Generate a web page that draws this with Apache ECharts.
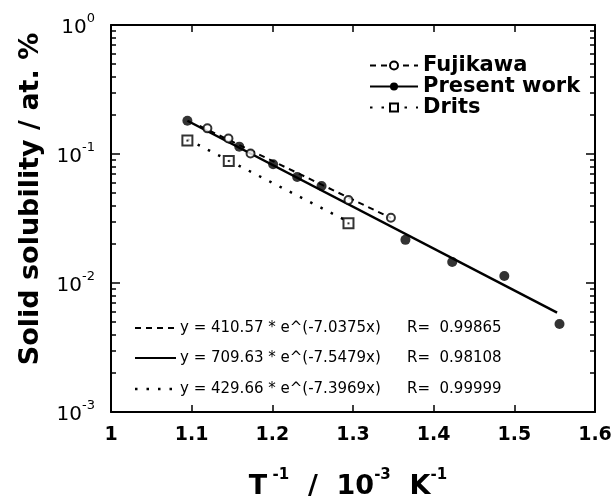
<!DOCTYPE html>
<html>
<head>
<meta charset="utf-8">
<script src="https://cdn.jsdelivr.net/npm/echarts@6/dist/echarts.min.js"></script>
<style>html,body{margin:0;padding:0;background:#fff}#c{width:616px;height:496px}</style>
</head>
<body>
<div id="c"></div>
<script>
// ---- data ----
var fujikawaX = [1.1195, 1.1456, 1.173, 1.2944, 1.347];
var fujikawaY = [0.158, 0.132, 0.101, 0.044, 0.0321];
var presentX = [1.0947, 1.159, 1.201, 1.2308, 1.261, 1.365, 1.423, 1.4876, 1.556];
var presentY = [0.181, 0.114, 0.0832, 0.0664, 0.0565, 0.0216, 0.01455, 0.01133, 0.00481];
var dritsX = [1.0947, 1.146, 1.2944];
var dritsY = [0.127, 0.0883, 0.029];
// fit line end points
var fujikawaFitX = [1.110, 1.347];
var fujikawaFitY = [0.165, 0.0319];
var presentFitX = [1.0947, 1.553];
var presentFitY = [0.181, 0.0059];
var dritsFitX = [1.0947, 1.2944];
var dritsFitY = [0.130, 0.0298];
// ticks
var xTickLabels = ['1', '1.1', '1.2', '1.3', '1.4', '1.5', '1.6'];
var yMajor = [0.001, 0.01, 0.1, 1];
var yMajorExp = ['-3', '-2', '-1', '0'];
var yMinor = [0.002,0.003,0.004,0.005,0.006,0.007,0.008,0.009,
              0.02,0.03,0.04,0.05,0.06,0.07,0.08,0.09,
              0.2,0.3,0.4,0.5,0.6,0.7,0.8,0.9];
var seriesNames = ['Fujikawa', 'Present work', 'Drits'];
var equations = [
  ['y = 410.57 * e^(-7.0375x)', 'R=  0.99865'],
  ['y = 709.63 * e^(-7.5479x)', 'R=  0.98108'],
  ['y = 429.66 * e^(-7.3969x)', 'R=  0.99999']
];

function zip(a, b) { return a.map(function (v, i) { return [v, b[i]]; }); }

var FONT = '"DejaVu Sans", sans-serif';
var black = '#000';
var dashF = [6, 5];
var dotD = [2.5, 9];

function yAxisDef(pos, ticks, len, showLine, showLabel) {
  return {
    type: 'log', logBase: 10, min: 0.001, max: 1, position: pos,
    axisLine: { show: showLine, lineStyle: { color: black, width: 2 } },
    axisTick: { show: true, inside: true, length: len, customValues: ticks, lineStyle: { color: black, width: 1.5 } },
    axisLabel: showLabel ? {
      show: true, customValues: yMajor, margin: 16,
      formatter: function (v) {
        var i = yMajor.findIndex(function (m) { return Math.abs(m - v) / m < 1e-6; });
        return '{b|10}{s|' + yMajorExp[i] + '}';
      },
      rich: {
        b: { fontSize: 20, fontFamily: FONT, color: black, lineHeight: 26, verticalAlign: 'bottom' },
        s: { fontSize: 13, fontFamily: FONT, color: black, lineHeight: 13, verticalAlign: 'top' }
      }
    } : { show: false },
    splitLine: { show: false }
  };
}
function xAxisDef(pos, showLabel) {
  return {
    type: 'value', min: 1, max: 1.6, interval: 0.1, position: pos,
    axisLine: { show: true, lineStyle: { color: black, width: 2 } },
    axisTick: { show: true, inside: true, length: 7, lineStyle: { color: black, width: 1.5 } },
    axisLabel: showLabel ? {
      show: true, margin: 14, fontSize: 19, fontWeight: 'bold', fontFamily: FONT, color: black,
      formatter: function (v) { return xTickLabels[Math.round((v - 1) * 10)]; }
    } : { show: false },
    splitLine: { show: false }
  };
}

var chart = echarts.init(document.getElementById('c'), null, { renderer: 'canvas' });

var graphics = [
  { type: 'text', x: 31, y: 199, rotation: Math.PI / 2,
    style: { text: 'Solid solubility / at. %', font: 'bold 27px ' + FONT, fill: black, align: 'center', verticalAlign: 'middle' } },
  { type: 'text', x: 348, y: 484,
    style: { text: '{a|T}{s| -1}{a|  /  10}{s|-3}{a|  K}{s|-1}', align: 'center', verticalAlign: 'middle',
      rich: {
        a: { fontSize: 27, fontWeight: 'bold', fontFamily: FONT, fill: black, color: black, lineHeight: 32, verticalAlign: 'bottom' },
        s: { fontSize: 15, fontWeight: 'bold', fontFamily: FONT, fill: black, color: black, lineHeight: 15, verticalAlign: 'top' }
      } } }
];
var eqY = [328, 358, 389];
var eqDash = [dashF, null, dotD];
eqY.forEach(function (y, i) {
  graphics.push({ type: 'line', shape: { x1: 135, y1: y, x2: 176, y2: y },
    style: { stroke: black, lineWidth: i === 2 ? 2.5 : 2, lineDash: eqDash[i] } });
  graphics.push({ type: 'text', x: 180, y: y,
    style: { text: equations[i][0], font: '15px ' + FONT, fill: black, align: 'left', verticalAlign: 'middle' } });
  graphics.push({ type: 'text', x: 407, y: y,
    style: { text: equations[i][1], font: '15px ' + FONT, fill: black, align: 'left', verticalAlign: 'middle' } });
});

chart.setOption({
  animation: false,
  backgroundColor: '#fff',
  grid: { left: 111, right: 21, top: 25, bottom: 84, containLabel: false },
  xAxis: [xAxisDef('bottom', true), xAxisDef('top', false)],
  yAxis: [
    yAxisDef('left', yMajor, 9, true, true),
    yAxisDef('left', yMinor, 5, false, false),
    yAxisDef('right', yMajor, 9, true, false),
    yAxisDef('right', yMinor, 5, false, false)
  ],
  legend: {
    show: true, orient: 'vertical', left: 369, top: 55, padding: 0, itemGap: 0,
    itemWidth: 48, itemHeight: 10, selectedMode: false,
    data: seriesNames,
    textStyle: { fontSize: 21, fontWeight: 'bold', fontFamily: FONT, color: black, lineHeight: 19 }
  },
  graphic: graphics,
  series: [
    { name: 'Fujikawa', type: 'line', data: zip(fujikawaFitX, fujikawaFitY), showSymbol: false,
      symbol: 'emptyCircle', itemStyle: { color: black, borderWidth: 2 },
      lineStyle: { color: black, width: 2, type: dashF }, z: 2 },
    { name: 'Present work', type: 'line', data: zip(presentFitX, presentFitY), showSymbol: false,
      symbol: 'circle', itemStyle: { color: black },
      lineStyle: { color: black, width: 2.5, type: 'solid' }, z: 2 },
    { name: 'Drits', type: 'line', data: zip(dritsFitX, dritsFitY), showSymbol: false,
      symbol: 'emptyRect', itemStyle: { color: black, borderWidth: 2 },
      lineStyle: { color: black, width: 2.5, type: dotD }, z: 2 },
    { name: 'Fujikawa data', type: 'scatter', data: zip(fujikawaX, fujikawaY), symbol: 'emptyCircle', symbolSize: 8,
      itemStyle: { color: black, borderColor: black, borderWidth: 2.5 }, z: 4 },
    { name: 'Present data', type: 'scatter', data: zip(presentX, presentY), symbol: 'circle', symbolSize: 10,
      itemStyle: { color: black }, z: 3 },
    { name: 'Drits data', type: 'scatter', data: zip(dritsX, dritsY), symbol: 'emptyRect', symbolSize: 10,
      itemStyle: { color: black, borderColor: black, borderWidth: 2 }, z: 4 },
    { name: 'Drits data center', type: 'scatter', data: zip(dritsX, dritsY), symbol: 'rect', symbolSize: 2,
      itemStyle: { color: black }, z: 5 }
  ]
});
</script>
</body>
</html>
